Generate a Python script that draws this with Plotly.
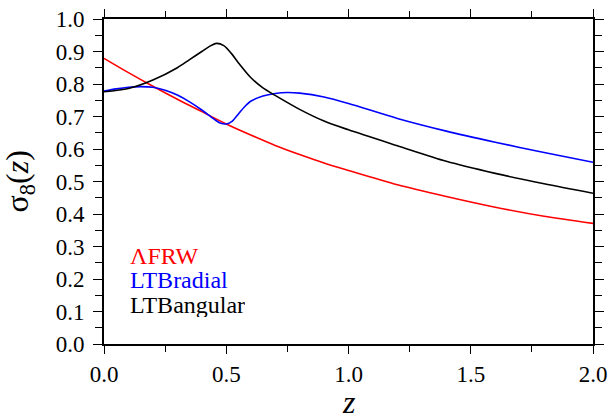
import plotly.graph_objects as go

# redshift samples
z_frw = [0.0, 0.1, 0.2, 0.3, 0.4, 0.5, 0.6, 0.7, 0.8, 0.9, 1.0,
         1.2, 1.4, 1.6, 1.8, 2.0]
sigma8_frw = [0.879, 0.835, 0.793, 0.753, 0.715, 0.677, 0.643, 0.611, 0.583, 0.557, 0.534,
              0.490, 0.454, 0.421, 0.393, 0.371]

z_radial = [0.0, 0.05, 0.1, 0.15, 0.2, 0.25, 0.3, 0.35, 0.4, 0.45, 0.475, 0.5,
            0.525, 0.55, 0.575, 0.6, 0.65, 0.7, 0.75, 0.8, 0.9, 1.0,
            1.2, 1.4, 1.6, 1.8, 2.0]
sigma8_radial = [0.778, 0.785, 0.790, 0.792, 0.790, 0.781, 0.766, 0.745, 0.720, 0.692, 0.680, 0.677,
                 0.686, 0.708, 0.730, 0.747, 0.763, 0.771, 0.774, 0.772, 0.760, 0.740,
                 0.694, 0.655, 0.621, 0.589, 0.559]

z_angular = [0.0, 0.1, 0.2, 0.3, 0.35, 0.4, 0.43, 0.46, 0.49, 0.52, 0.55, 0.6,
             0.65, 0.7, 0.8, 0.9, 1.0, 1.2, 1.4, 1.6, 1.8, 2.0]
sigma8_angular = [0.776, 0.786, 0.812, 0.850, 0.875, 0.900, 0.915, 0.925, 0.918, 0.895, 0.865, 0.820,
                  0.788, 0.765, 0.722, 0.686, 0.659, 0.610, 0.562, 0.525, 0.493, 0.464]

series = [
    ("ΛFRW", z_frw, sigma8_frw, "#ff0000"),
    ("LTBradial", z_radial, sigma8_radial, "#0000ff"),
    ("LTBangular", z_angular, sigma8_angular, "#000000"),
]

FONT = "'Liberation Serif', 'Times New Roman', Times, serif"

fig = go.Figure()
for name, zs, vals, color in series:
    fig.add_trace(go.Scatter(
        x=zs, y=vals, mode="lines", name=name,
        line=dict(color=color, width=1.6, shape="spline", smoothing=0.8),
        showlegend=False,
    ))

# text legend in the lower-left corner
label_y = [0.272, 0.196, 0.120]
for (name, _, _, color), ly in zip(series, label_y):
    fig.add_annotation(
        x=0.097, y=ly, xref="x", yref="y", text=name, showarrow=False,
        xanchor="left", yanchor="middle", height=24,
        font=dict(family=FONT, size=24, color=color),
    )

# axis titles
fig.add_annotation(
    x=-0.172, y=0.5, xref="paper", yref="paper",
    text="σ<sub>8</sub>(<i>z</i>)", showarrow=False, textangle=-90,
    xanchor="center", yanchor="middle",
    font=dict(family=FONT, size=32, color="black"),
)
fig.add_annotation(
    x=0.5, y=0, xref="paper", yref="paper", yshift=-38,
    text="<i>z</i>", showarrow=False,
    xanchor="center", yanchor="top",
    font=dict(family=FONT, size=32, color="black"),
)

axis_common = dict(
    showgrid=False, zeroline=False, showline=True, linecolor="black", linewidth=2,
    mirror="allticks", ticks="outside", tickcolor="black", tickwidth=1.3,
    tickfont=dict(family=FONT, size=23, color="black"), automargin=False,
)

fig.update_xaxes(
    range=[0, 2], tick0=0, dtick=0.5, ticklen=8, tickformat=".1f",
    minor=dict(tick0=0, dtick=0.25, ticklen=6, ticks="outside", tickcolor="black", tickwidth=1.3),
    **axis_common,
)
fig.update_yaxes(
    range=[0, 1], tick0=0, dtick=0.1, ticklen=9, tickformat=".1f", ticklabelstandoff=4,
    minor=dict(tick0=0, dtick=0.05, ticklen=7, ticks="outside", tickcolor="black", tickwidth=1.3),
    **axis_common,
)

fig.update_layout(
    width=612, height=419,
    margin=dict(l=104, r=19, t=19, b=75),
    paper_bgcolor="white", plot_bgcolor="white",
    font=dict(family=FONT, color="black"),
)

fig.write_html("out.html")
